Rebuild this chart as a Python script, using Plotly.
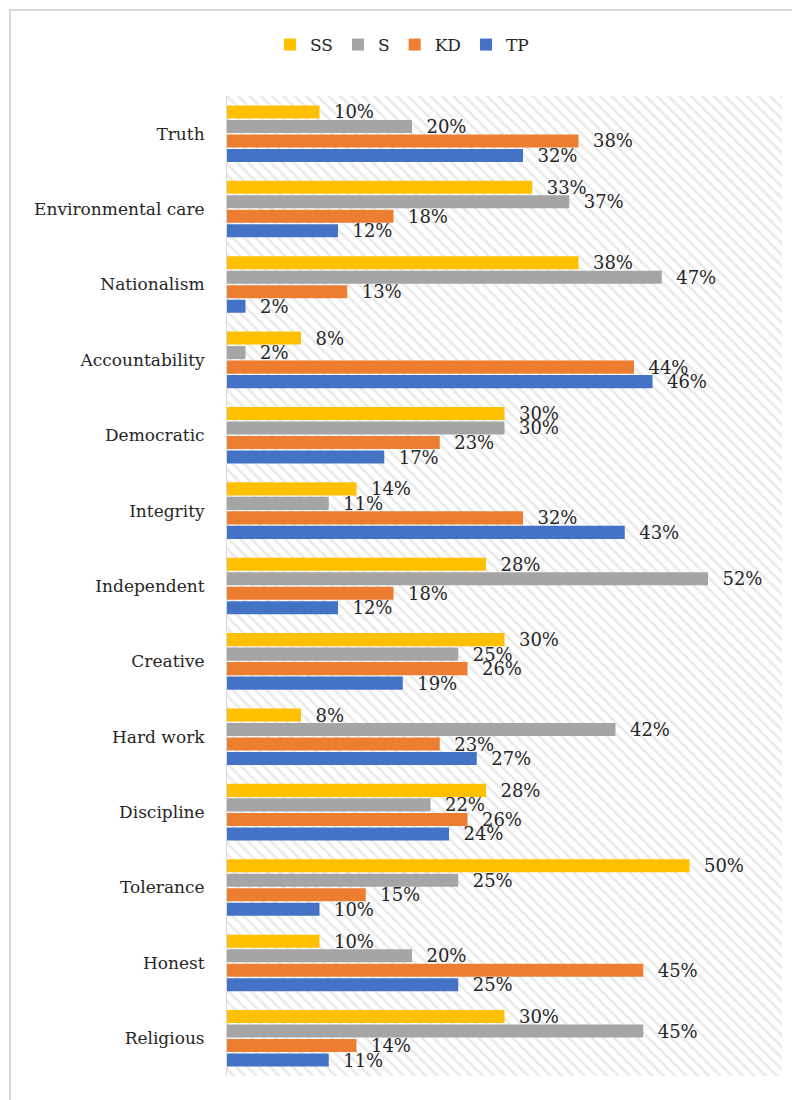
import plotly.graph_objects as go

categories = ["Truth", "Environmental care", "Nationalism", "Accountability", "Democratic",
              "Integrity", "Independent", "Creative", "Hard work", "Discipline",
              "Tolerance", "Honest", "Religious"]
series_names = ["SS", "S", "KD", "TP"]
ss = [10, 33, 38, 8, 30, 14, 28, 30, 8, 28, 50, 10, 30]
s = [20, 37, 47, 2, 30, 11, 52, 25, 42, 22, 25, 20, 45]
kd = [38, 18, 13, 44, 23, 32, 18, 26, 23, 26, 15, 45, 14]
tp = [32, 12, 2, 46, 17, 43, 12, 19, 27, 24, 10, 25, 11]
colors = ["#FFC000", "#A5A5A5", "#ED7D31", "#4472C4"]

FONT = "DejaVu Serif"
W, H = 800, 1100
OFF = 8  # page body margin
ML, MR, MT, MB = 227 - OFF, 26, 96 - OFF, 32

fig = go.Figure()

# hatched plot-area background on base axes
fig.add_trace(go.Scatter(
    x=[0, 1, 1, 0, 0], y=[0, 0, 1, 1, 0], mode="lines", fill="toself",
    line=dict(width=0), fillcolor="white",
    fillpattern=dict(shape="\\", fgcolor="#d3d3d3", bgcolor="white", size=8, solidity=0.32),
    hoverinfo="skip", showlegend=False, xaxis="x", yaxis="y"))

for name, vals, col in zip(series_names, [ss, s, kd, tp], colors):
    fig.add_trace(go.Bar(
        name=name, y=categories, x=[v / 100 for v in vals], orientation="h",
        marker=dict(color=col, line=dict(width=0)),
        text=[f"\u00a0\u00a0{v}%" for v in vals], textposition="outside",
        constraintext="none", cliponaxis=False,
        textfont=dict(family=FONT, size=18, color="#262626"),
        xaxis="x2", yaxis="y2"))

fig.update_layout(
    width=W, height=H, paper_bgcolor="white", plot_bgcolor="white",
    margin=dict(l=ML, r=MR, t=MT, b=MB),
    barmode="group", bargap=0.23, bargroupgap=0.1,
    font=dict(family=FONT, size=17, color="#262626"),
    showlegend=True,
    legend=dict(orientation="h", x=0.5 - 6 / W, xanchor="center", xref="container",
                y=1 - (45 - OFF) / H, yanchor="middle", yref="container",
                font=dict(family=FONT, size=17, color="#262626"),
                traceorder="normal", itemwidth=30),
    xaxis=dict(range=[0, 1], visible=False, fixedrange=True),
    yaxis=dict(range=[0, 1], visible=False, fixedrange=True),
    xaxis2=dict(range=[0, 0.6], overlaying="x", visible=False, showgrid=False),
    yaxis2=dict(overlaying="y", autorange="reversed", type="category",
                showline=True, linecolor="#d9d9d9", linewidth=1,
                ticks="", ticklabelstandoff=18, side="left",
                tickfont=dict(family=FONT, size=17, color="#262626"),
                showgrid=False),
)

# outer chart border
pw = W - ML - MR
ph = H - MT - MB
bx, by = 10 - OFF, 10 - OFF
fig.add_shape(type="rect", xref="paper", yref="paper",
              x0=(bx - ML) / pw, x1=(W + 20 - ML) / pw,
              y0=1 - (H + 20 - MT) / ph, y1=1 - (by - MT) / ph,
              line=dict(color="#d9d9d9", width=2), fillcolor="rgba(0,0,0,0)", layer="below")

fig.write_html("out.html")
